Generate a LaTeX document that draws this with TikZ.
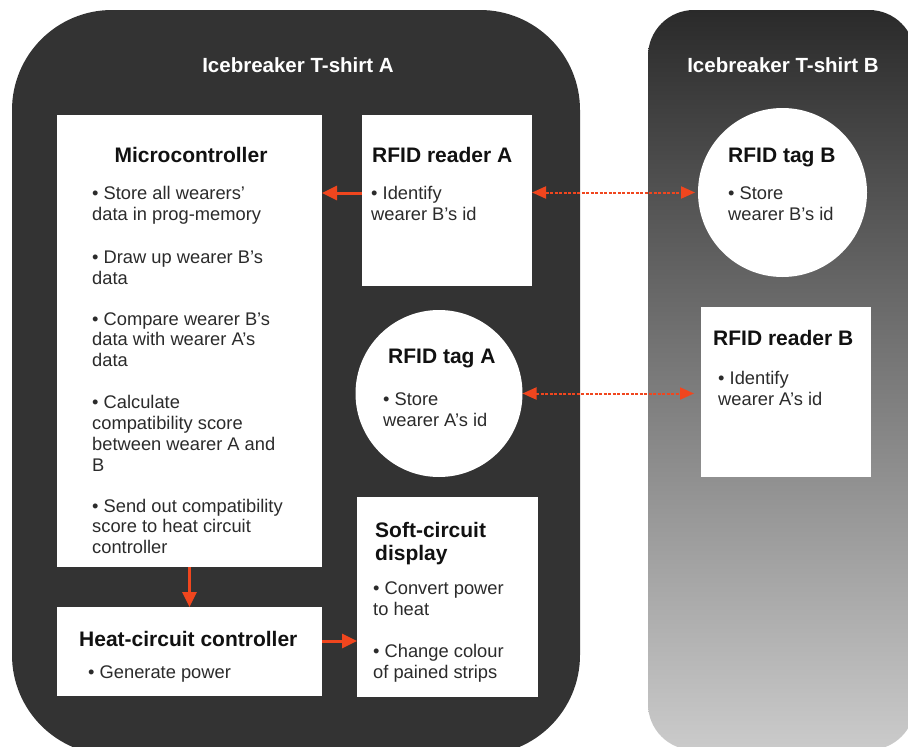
\documentclass[tikz,border=0pt]{standalone}
\usepackage{fontspec}
\setmainfont{Liberation Sans}
\usetikzlibrary{arrows.meta,calc}
\definecolor{panelA}{HTML}{333333}
\definecolor{bTop}{HTML}{2A2A2A}
\definecolor{bBot}{HTML}{CBCBCB}
\definecolor{arrowc}{HTML}{F0461E}
\definecolor{titc}{HTML}{111111}
\definecolor{bodyc}{HTML}{2B2B2B}
\newcommand\bodyfont{\fontsize{18.3}{20.7}\selectfont}
\newcommand\titlefont{\fontsize{21}{23}\selectfont\bfseries}
\newcommand\paneltitlefont{\fontsize{20.5}{23}\selectfont\bfseries}
\begin{document}
\begin{tikzpicture}[x=1pt,y=-1pt,
  whitebox/.style={rectangle, fill=white, draw=none, inner sep=0pt, outer sep=0pt},
  tagcircle/.style={circle, fill=white, draw=none, inner sep=0pt, outer sep=0pt},
  ptitle/.style={anchor=base, inner sep=0pt, font=\paneltitlefont, text=white},
  ttl/.style={anchor=base west, inner sep=0pt, font=\titlefont, text=titc, align=left},
  txt/.style={anchor=base west, inner sep=0pt, font=\bodyfont, text=bodyc, align=left},
  arr/.style={draw=arrowc, line width=3pt, -{Triangle[length=15pt,width=14pt]}},
  darr/.style={draw=arrowc, line width=2pt, dash pattern=on 3pt off 1.5pt,
    {Triangle[length=14pt,width=12pt]}-{Triangle[length=14pt,width=12pt]}}]
\useasboundingbox (0,0) rectangle (908,747);
\fill[white] (0,0) rectangle (908,747);
% panels
\fill[panelA, rounded corners=100pt] (12,10) rectangle (580,755);
\shade[top color=bTop, bottom color=bBot, rounded corners=46pt] (648,10) rectangle (915,750);
\node[ptitle] (titleA) at (298,72) {Icebreaker T-shirt A};
\node[ptitle] (titleB) at (783,72) {Icebreaker T-shirt B};
% boxes
\node[whitebox, minimum width=265pt, minimum height=452pt] (micro) at (189.5,341) {};
\node[whitebox, minimum width=170pt, minimum height=171pt] (readerA) at (447,200.5) {};
\node[tagcircle, minimum size=167pt] (tagA) at (439,393.5) {};
\node[whitebox, minimum width=181pt, minimum height=200pt] (soft) at (447.5,597) {};
\node[whitebox, minimum width=265pt, minimum height=89pt] (heat) at (189.5,651.5) {};
\node[tagcircle, minimum size=169pt] (tagB) at (782.5,192.5) {};
\node[whitebox, minimum width=170pt, minimum height=170pt] (readerB) at (786,392) {};
% texts (anchor = baseline of last line)
\node[ttl, anchor=base] (microT) at (191,162) {Microcontroller};
\node[txt] (mc1) at (92,220.5) {• Store all wearers'\\data in prog-memory};
\node[txt] (mc2) at (92,284.5) {• Draw up wearer B's\\data};
\node[txt] (mc3) at (92,366.5) {• Compare wearer B's\\data with wearer A's\\data};
\node[txt] (mc4) at (92,471) {• Calculate\\compatibility score\\between wearer A and\\B};
\node[txt] (mc5) at (92,553.5) {• Send out compatibility\\score to heat circuit\\controller};
\node[ttl] (readerAT) at (372,162) {RFID reader A};
\node[txt] (readerAX) at (371,220.5) {• Identify\\wearer B's id};
\node[ttl] (tagAT) at (388,363) {RFID tag A};
\node[txt] (tagAX) at (383,426) {• Store\\wearer A's id};
\node[ttl] (softT) at (375,560) {Soft-circuit\\display};
\node[txt] (softX1) at (373,615.5) {• Convert power\\to heat};
\node[txt] (softX2) at (373,678) {• Change colour\\of pained strips};
\node[ttl] (heatT) at (79,646) {Heat-circuit controller};
\node[txt] (heatX) at (88,678) {• Generate power};
\node[ttl] (tagBT) at (728,162) {RFID tag B};
\node[txt] (tagBX) at (728,220.5) {• Store\\wearer B's id};
\node[ttl] (readerBT) at (713,345) {RFID reader B};
\node[txt] (readerBX) at (718,405) {• Identify\\wearer A's id};
% connectors
\coordinate (a1) at ([yshift=7.5pt]readerA.west);
\draw[arr] (a1) -- (a1 -| micro.east);
\draw[arr] (micro.south) -- (heat.north);
\coordinate (a2) at ([yshift=10.5pt]heat.east);
\draw[arr] (a2) -- (a2 -| soft.west);
\draw[darr, shorten >=3pt] (readerA.east |- tagB.west) -- (tagB.west);
\draw[darr, shorten >=7pt] (tagA.east) -- (tagA.east -| readerB.west);
\end{tikzpicture}
\end{document}
